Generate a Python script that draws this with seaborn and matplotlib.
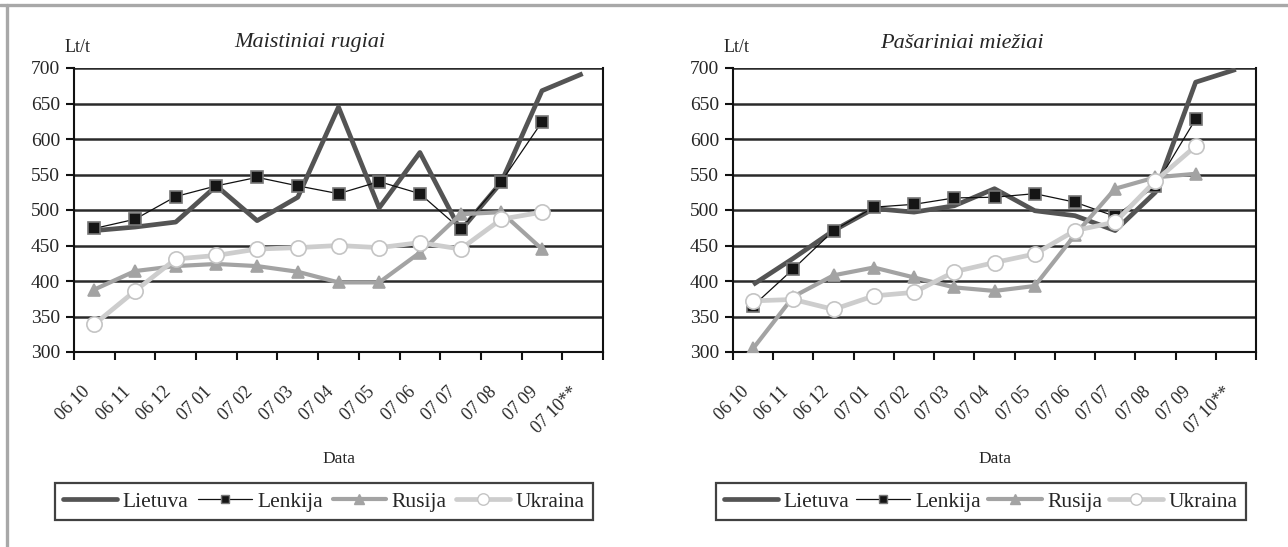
import numpy as np
import pandas as pd
import matplotlib
matplotlib.use("Agg")
import matplotlib.pyplot as plt
from matplotlib.lines import Line2D
from matplotlib.transforms import ScaledTranslation
import seaborn as sns

# months on the x axis
months = ["06 10", "06 11", "06 12", "07 01", "07 02", "07 03", "07 04",
          "07 05", "07 06", "07 07", "07 08", "07 09", "07 10**"]

# Maistiniai rugiai (Lt/t)
rye_lietuva = [471, 476, 483, 534, 485, 518, 645, 503, 581, 471, 539, 668, 692]
rye_lenkija = [474, 487, 519, 534, 546, 534, 523, 540, 523, 473, 540, 624]
rye_rusija = [388, 414, 421, 424, 421, 413, 398, 398, 440, 494, 497, 445]
rye_ukraina = [339, 386, 431, 436, 445, 447, 450, 447, 454, 445, 487, 497]

# Pasariniai miežiai (Lt/t)
barley_lietuva = [395, 432, 471, 502, 497, 506, 530, 499, 492, 471, 525, 680, 698]
barley_lenkija = [365, 417, 471, 504, 508, 517, 518, 523, 511, 491, 534, 628]
barley_rusija = [305, 378, 408, 419, 405, 391, 386, 393, 465, 530, 546, 551]
barley_ukraina = [372, 374, 360, 379, 384, 413, 426, 438, 471, 483, 541, 590]

countries = ["Lietuva", "Lenkija", "Rusija", "Ukraina"]
titles = ["Maistiniai rugiai", "Pašariniai miežiai"]

styles = {
    "Lietuva": dict(color="#545454", lw=3.4, marker=None, ms=0, mfc=None, mec=None),
    "Lenkija": dict(color="#111111", lw=0.9, marker="s", ms=8, mfc="#151515", mec="#777777"),
    "Rusija": dict(color="#a3a3a3", lw=3.0, marker="^", ms=9, mfc="#a3a3a3", mec="#a3a3a3"),
    "Ukraina": dict(color="#cdcdcd", lw=3.4, marker="o", ms=11, mfc="white", mec="#c4c4c4"),
}

sns.set_theme(style="white")
plt.rcParams["font.family"] = ["Liberation Serif", "DejaVu Serif"]

W, H = 1288, 547
fig = plt.figure(figsize=(W / 100, H / 100), dpi=100)

panels = [
    (titles[0], [rye_lietuva, rye_lenkija, rye_rusija, rye_ukraina], 74, 603, 310, 65, (44, 604)),
    (titles[1], [barley_lietuva, barley_lenkija, barley_rusija, barley_ukraina], 733, 1256, 962, 724, (705, 1257)),
]

for title, series, x0, x1, tx, ltx, (lg0, lg1) in panels:
    ax = fig.add_axes([x0 / W, 1 - 352 / H, (x1 - x0) / W, (352 - 68) / H])
    handles = []
    for name, vals in zip(countries, series):
        st = styles[name]
        df = pd.DataFrame({"x": np.arange(len(vals)), "y": vals})
        sns.lineplot(data=df, x="x", y="y", ax=ax, color=st["color"], lw=st["lw"],
                     marker=st["marker"], markersize=st["ms"], markerfacecolor=st["mfc"],
                     markeredgecolor=st["mec"], markeredgewidth=1.2,
                     solid_joinstyle="round", solid_capstyle="butt", zorder=3)
        handles.append(Line2D([], [], color=st["color"], lw=st["lw"], marker=st["marker"],
                              markersize=st["ms"] * 0.75, markerfacecolor=st["mfc"],
                              markeredgecolor=st["mec"], label=name))

    ax.set_xlim(-0.5, len(months) - 0.5)
    ax.set_ylim(300, 700)
    ax.set_yticks(range(300, 701, 50))
    ax.yaxis.grid(True, color="#2a2a2a", lw=1.8)
    ax.set_axisbelow(True)
    for s in ["left", "right", "bottom"]:
        ax.spines[s].set_visible(True)
        ax.spines[s].set_color("#111111")
        ax.spines[s].set_linewidth(1.5)
    ax.spines["top"].set_visible(False)

    ax.set_xticks(np.arange(len(months)))
    ax.set_xticklabels(months, rotation=45, ha="right", va="center", rotation_mode="anchor")
    ax.set_xticks(np.arange(-0.5, len(months)), minor=True)
    ax.tick_params(axis="x", which="major", length=0, pad=27, labelsize=13)
    ax.tick_params(axis="x", which="minor", length=6, width=1.5, color="#111111", bottom=True)
    ax.tick_params(axis="y", length=6, width=1.5, color="#111111", left=True, labelsize=14, pad=4)
    off = ScaledTranslation(-7 / 100, 0, fig.dpi_scale_trans)
    for lab in ax.get_xticklabels():
        lab.set_transform(lab.get_transform() + off)

    ax.set_ylabel("")
    ax.set_xlabel("Data", fontsize=12.5)
    ax.xaxis.set_label_coords(0.5, -0.35)

    fig.text(tx / W, 1 - 43 / H, title, ha="center", va="center", fontsize=16, style="italic")
    fig.text(ltx / W, 1 - 48 / H, "Lt/t", ha="left", va="center", fontsize=13)

    leg = fig.legend(handles=handles, loc="lower left", ncol=4, mode="expand",
                     bbox_to_anchor=(lg0 / W, 1 - 531 / H, (lg1 - lg0) / W, 48 / H),
                     fontsize=15.5, handlelength=2.5, handletextpad=0.25, borderpad=0.4,
                     fancybox=False, frameon=True)
    leg.get_frame().set_edgecolor("#111111")
    leg.get_frame().set_linewidth(1.6)

# grey frame of the scanned page
fig.add_artist(Line2D([0, 1], [1 - 5 / H, 1 - 5 / H], transform=fig.transFigure, color="#a8a8a8", lw=2.4))
fig.add_artist(Line2D([7 / W, 7 / W], [0, 1 - 5 / H], transform=fig.transFigure, color="#a8a8a8", lw=2.4))

fig.savefig("out.png", dpi=100)
